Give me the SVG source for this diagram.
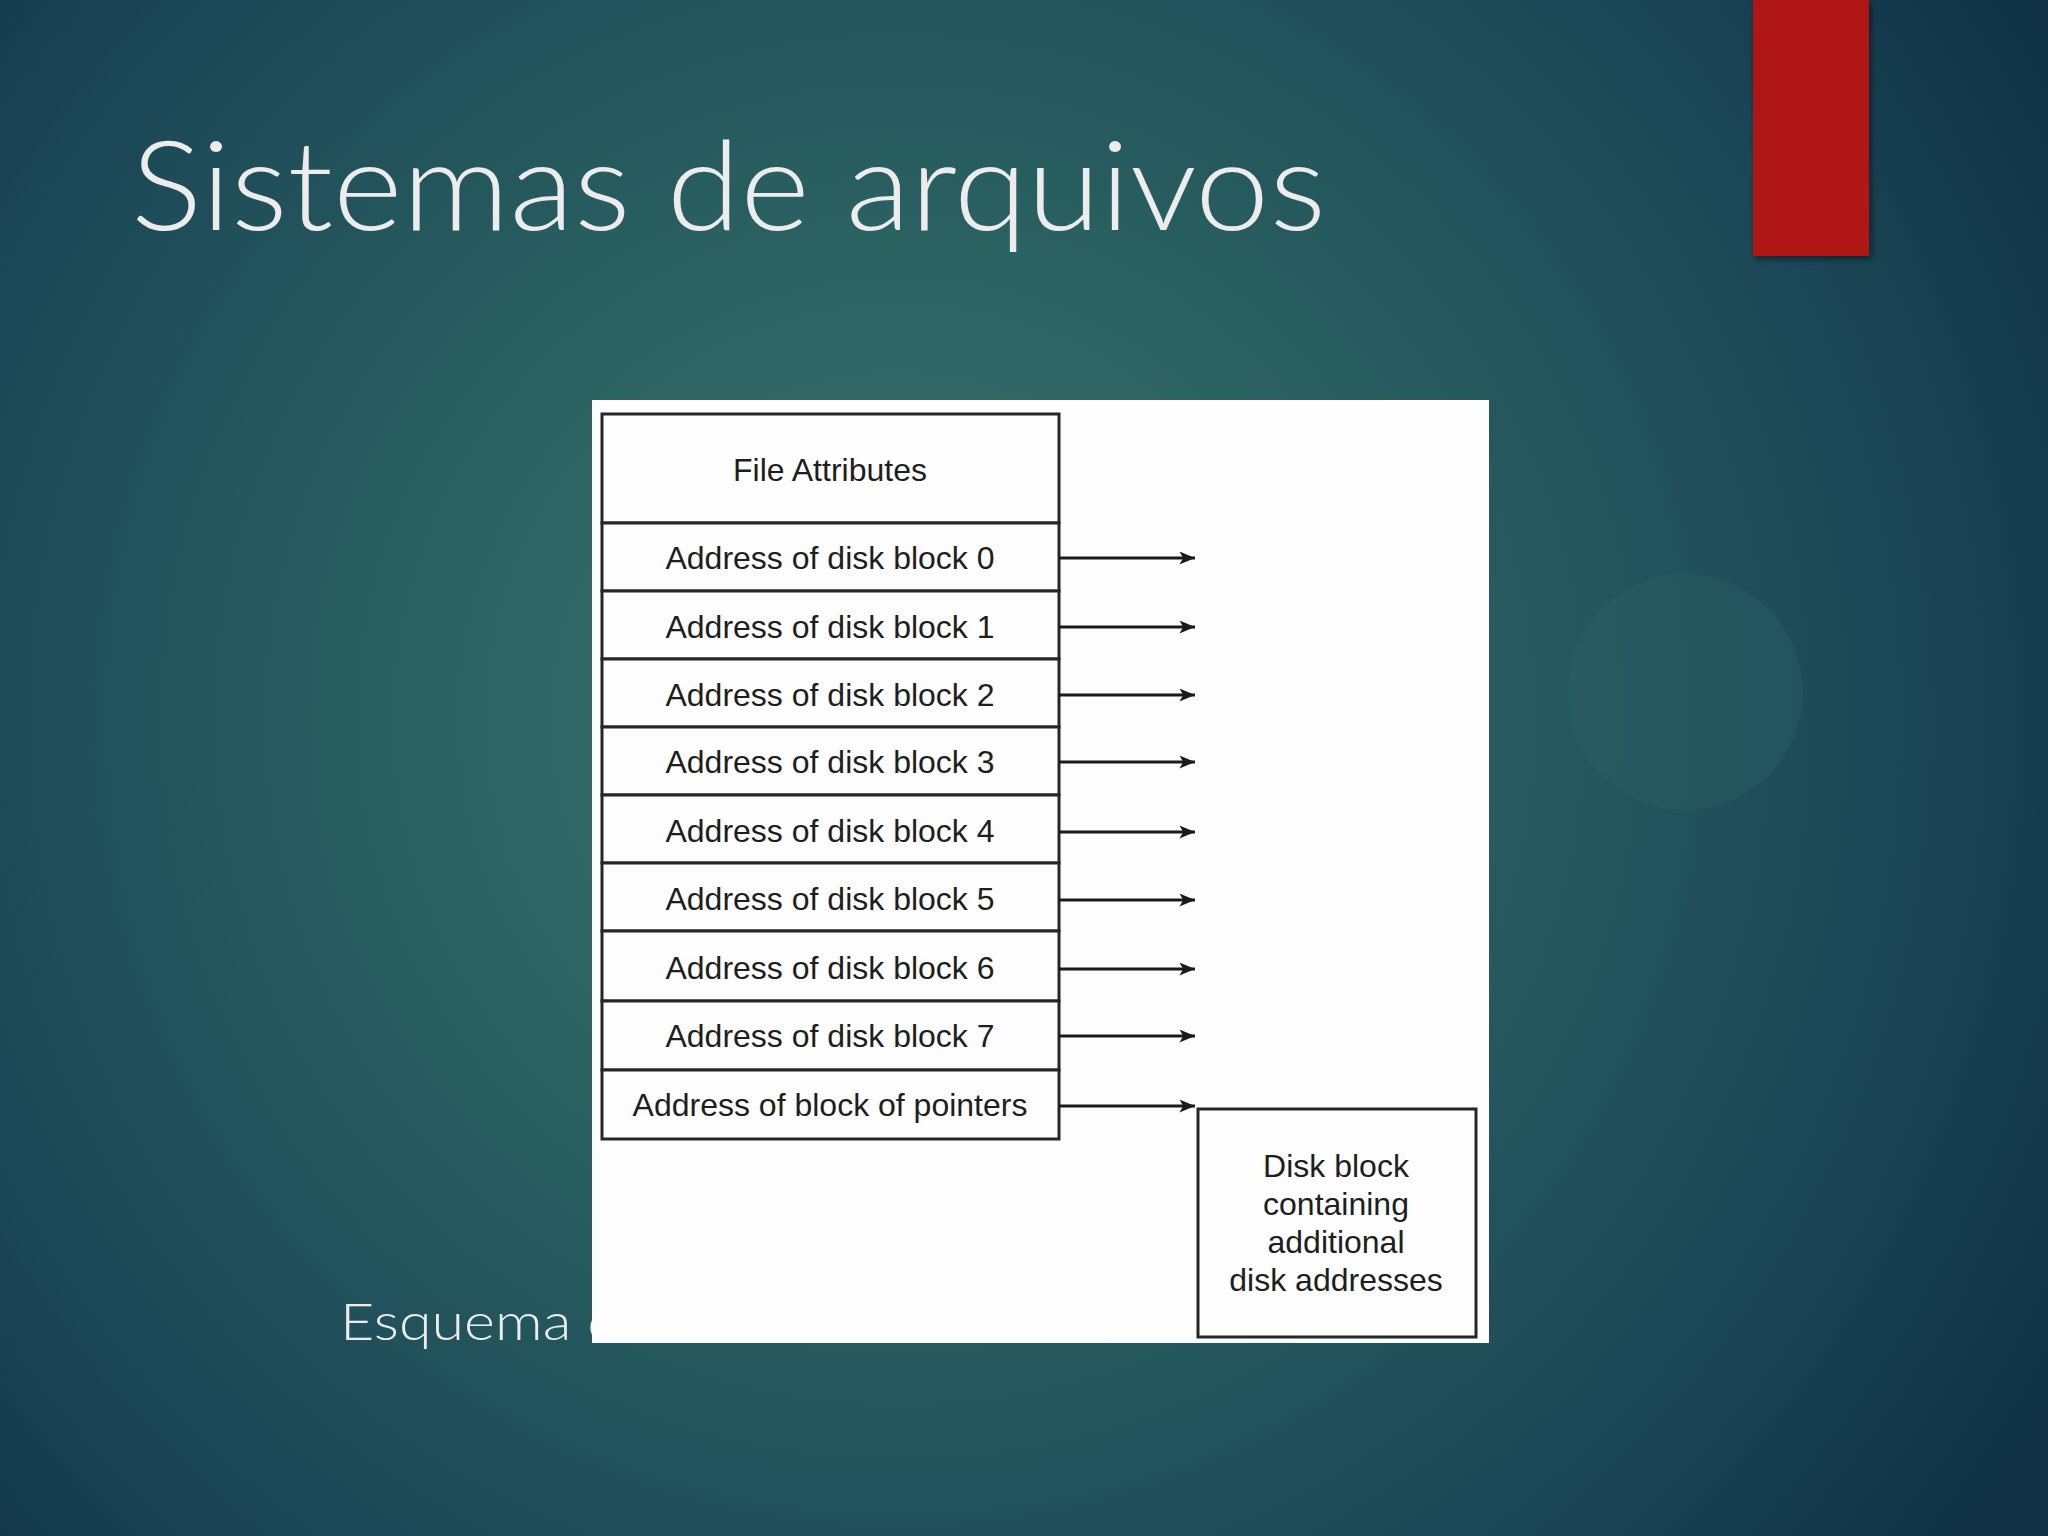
<svg xmlns="http://www.w3.org/2000/svg" width="2048" height="1536" viewBox="0 0 2048 1536">
<defs>
  <radialGradient id="bg" cx="900" cy="720" r="1350" gradientUnits="userSpaceOnUse">
    <stop offset="0" stop-color="#3a726d"/>
    <stop offset="0.35" stop-color="#2b6262"/>
    <stop offset="0.75" stop-color="#1b4656"/>
    <stop offset="1" stop-color="#0f3045"/>
  </radialGradient>
  <filter id="sh" x="-20%" y="-20%" width="140%" height="140%">
    <feDropShadow dx="2" dy="3" stdDeviation="3" flood-color="#000" flood-opacity="0.5"/>
  </filter>
  <marker id="arr" viewBox="0 0 12 10" refX="12" refY="5" markerWidth="22" markerHeight="13" markerUnits="userSpaceOnUse" orient="auto">
    <path d="M0,0 L12,5 L0,10 L3,5 Z" fill="#1a1a1a"/>
  </marker>
  <style>
    .cell{fill:#fdfdfd;stroke:#262626;stroke-width:3}
    .lbl{font-family:"Liberation Sans",Arial,sans-serif;font-size:32px;fill:#1e1e1e;text-anchor:middle}
    .conn{stroke:#1a1a1a;stroke-width:3;fill:none}
    .title{font-family:Lato,"Open Sans",sans-serif;font-weight:300;fill:#ececec}
  </style>
</defs>
<rect width="2048" height="1536" fill="url(#bg)"/>
<circle cx="1685" cy="692" r="118" fill="#2d6165" opacity="0.35"/>
<rect x="1753" y="0" width="116" height="256" fill="#b01813" filter="url(#sh)"/>
<text class="title" x="131" y="230" font-size="124" textLength="1195" lengthAdjust="spacingAndGlyphs">Sistemas de arquivos</text>
<text class="title" x="340" y="1340" font-size="52" textLength="280" lengthAdjust="spacingAndGlyphs">Esquema d</text>
<rect x="592" y="400" width="897" height="943" fill="#fdfdfd"/>
<g id="inode">
  <g id="file-attributes"><rect class="cell" x="602" y="414" width="457" height="109"/><text class="lbl" x="830" y="481">File Attributes</text></g>
  <g id="block0"><rect class="cell" x="602" y="523" width="457" height="68"/><text class="lbl" x="830" y="569">Address of disk block 0</text></g>
  <g id="block1"><rect class="cell" x="602" y="591" width="457" height="68"/><text class="lbl" x="830" y="638">Address of disk block 1</text></g>
  <g id="block2"><rect class="cell" x="602" y="659" width="457" height="68"/><text class="lbl" x="830" y="706">Address of disk block 2</text></g>
  <g id="block3"><rect class="cell" x="602" y="727" width="457" height="68"/><text class="lbl" x="830" y="773">Address of disk block 3</text></g>
  <g id="block4"><rect class="cell" x="602" y="795" width="457" height="68"/><text class="lbl" x="830" y="842">Address of disk block 4</text></g>
  <g id="block5"><rect class="cell" x="602" y="863" width="457" height="68"/><text class="lbl" x="830" y="910">Address of disk block 5</text></g>
  <g id="block6"><rect class="cell" x="602" y="931" width="457" height="70"/><text class="lbl" x="830" y="979">Address of disk block 6</text></g>
  <g id="block7"><rect class="cell" x="602" y="1001" width="457" height="69"/><text class="lbl" x="830" y="1047">Address of disk block 7</text></g>
  <g id="pointers"><rect class="cell" x="602" y="1070" width="457" height="69"/><text class="lbl" x="830" y="1116">Address of block of pointers</text></g>
</g>
<g id="indirect-block">
  <rect class="cell" x="1198" y="1109" width="278" height="228"/>
  <text class="lbl" x="1336" y="1177">Disk block</text>
  <text class="lbl" x="1336" y="1215">containing</text>
  <text class="lbl" x="1336" y="1253">additional</text>
  <text class="lbl" x="1336" y="1291">disk addresses</text>
</g>
<g id="connectors">
  <line class="conn" x1="1059" y1="558" x2="1195" y2="558" marker-end="url(#arr)"/>
  <line class="conn" x1="1059" y1="627" x2="1195" y2="627" marker-end="url(#arr)"/>
  <line class="conn" x1="1059" y1="695" x2="1195" y2="695" marker-end="url(#arr)"/>
  <line class="conn" x1="1059" y1="762" x2="1195" y2="762" marker-end="url(#arr)"/>
  <line class="conn" x1="1059" y1="832" x2="1195" y2="832" marker-end="url(#arr)"/>
  <line class="conn" x1="1059" y1="900" x2="1195" y2="900" marker-end="url(#arr)"/>
  <line class="conn" x1="1059" y1="969" x2="1195" y2="969" marker-end="url(#arr)"/>
  <line class="conn" x1="1059" y1="1036" x2="1195" y2="1036" marker-end="url(#arr)"/>
  <line class="conn" x1="1059" y1="1106" x2="1195" y2="1106" marker-end="url(#arr)"/>
</g>
</svg>
